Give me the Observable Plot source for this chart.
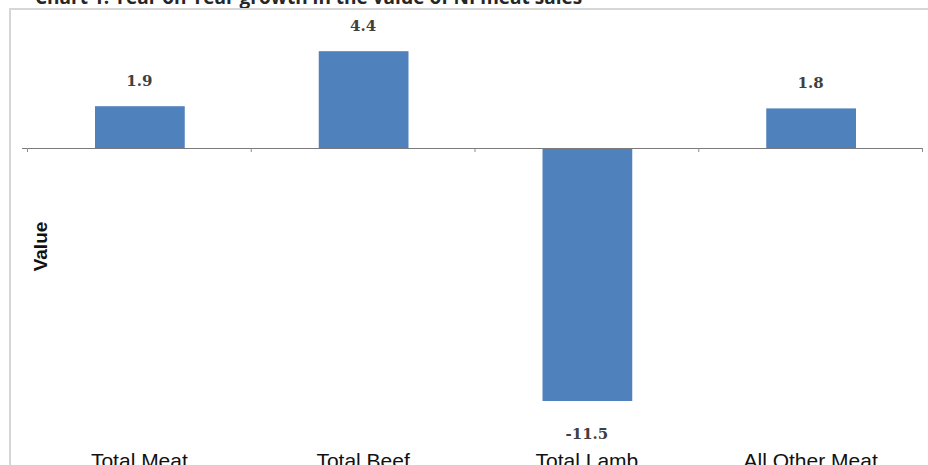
<!DOCTYPE html>
<html>
<head>
<meta charset="utf-8">
<script src="https://cdn.jsdelivr.net/npm/d3@7"></script>
<script src="https://cdn.jsdelivr.net/npm/@observablehq/plot@0.6"></script>
<style>
  html, body { margin: 0; padding: 0; background: #fff; }
  #title-clip { height: 8px; overflow: hidden; position: relative; }
  #title { position: absolute; left: 35px; top: -12px; margin: 0; white-space: nowrap;
    font-family: "Open Sans", sans-serif; font-weight: 700; font-size: 19px; line-height: 19px; color: #262626; }
  #frame { margin-left: 9px; border-left: 2px solid #d6d6d6; border-top: 2px solid #d6d6d6; width: 917px; height: 455px; }
  #frame svg { display: block; }
</style>
</head>
<body>
<div id="title-clip"><div id="title"></div></div>
<div id="frame"></div>
<script>
const titleText = "Chart 1: Year on Year growth in the value of NI meat sales";
const yLabel = "Value";
const categories = ["Total Meat", "Total Beef", "Total Lamb", "All Other Meat"];
const values = [1.9, 4.4, -11.5, 1.8];
const valueLabels = ["1.9", "4.4", "-11.5", "1.8"];
const boundaries = [0, 1, 2, 3, 4];

document.getElementById("title").textContent = titleText;

const data = categories.map((c, i) => ({category: c, index: i, value: values[i], label: valueLabels[i]}));

const chart = Plot.plot({
  width: 917,
  height: 455,
  marginLeft: 16,
  marginRight: 6,
  marginTop: 6,
  marginBottom: 53,
  x: {type: "linear", domain: [0, categories.length], axis: null},
  y: {domain: [-12, 6], axis: null},
  style: {background: "transparent", overflow: "visible"},
  marks: [
    Plot.rectY(data, {x1: "index", x2: d => d.index + 1, y: "value", fill: "#4f81bd", insetLeft: 68, insetRight: 66}),
    Plot.ruleY([0], {stroke: "#7a7a7a", strokeWidth: 1.2, insetLeft: -5}),
    Plot.ruleX(boundaries, {x: d => d, y1: 0, y2: 0, insetBottom: -4, stroke: "#8c8c8c", strokeWidth: 1}),
    Plot.text(data.filter(d => d.value >= 0), {x: d => d.index + 0.5, y: "value", text: "label", dy: -26,
      fontFamily: "DejaVu Serif", fontSize: 15, fill: "#404040", fontWeight: "bold"}),
    Plot.text(data.filter(d => d.value < 0), {x: d => d.index + 0.5, y: "value", text: "label", dy: 33,
      fontFamily: "DejaVu Serif", fontSize: 15, fill: "#404040", fontWeight: "bold"}),
    Plot.text(data, {x: d => d.index + 0.5, frameAnchor: "bottom", text: "category", lineAnchor: "top", dy: 41,
      fontFamily: "Liberation Sans", fontSize: 21, fill: "#111"}),
    Plot.text([yLabel], {frameAnchor: "left", textAnchor: "middle", rotate: -90, dx: 13, dy: 32, text: d => d,
      fontFamily: "Liberation Sans", fontWeight: "bold", fontSize: 19, fill: "#111"})
  ]
});
document.getElementById("frame").appendChild(chart);
</script>
</body>
</html>
